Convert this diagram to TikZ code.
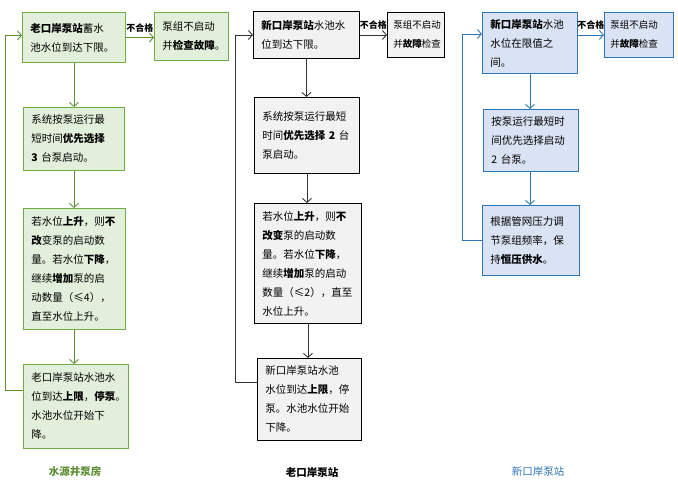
\documentclass[tikz,border=0pt]{standalone}
\usepackage{fontspec}
\setmainfont{Noto Sans CJK SC}
\usetikzlibrary{arrows.meta,calc}
\definecolor{gfill}{HTML}{E2EFDA}
\definecolor{gline}{HTML}{70AD47}
\definecolor{gdark}{HTML}{5E8F34}
\definecolor{kfill}{HTML}{F2F2F2}
\definecolor{bfill}{HTML}{DAE3F3}
\definecolor{bline}{HTML}{2E75B6}
\tikzset{
  box/.style={draw, line width=0.9pt, anchor=north west, align=left, inner xsep=8pt, inner ysep=2pt,
    font=\fontsize{10.5}{19}\selectfont},
  smallbox/.style={font=\fontsize{9.5}{19}\selectfont, inner xsep=6pt},
  gbox/.style={box, draw=gline, fill=gfill},
  kbox/.style={box, draw=black, fill=kfill},
  bbox/.style={box, draw=bline, fill=bfill},
  conn/.style={line width=0.9pt, -{Straight Barb[length=4pt,width=9pt,line width=0.9pt]}},
  garrow/.style={conn, draw=gdark},
  karrow/.style={conn, draw=black!80},
  barrow/.style={conn, draw=bline},
  fail/.style={above, yshift=4pt, inner sep=1pt, font=\fontsize{9}{10}\selectfont\bfseries, text=black},
  coltitle/.style={font=\fontsize{10.5}{12}\selectfont\bfseries}
}
\begin{document}
\begin{tikzpicture}[x=1pt,y=-1pt]
\useasboundingbox (0,0) rectangle (678,490);
% column 1
\node[gbox, text width=87pt, minimum height=50pt] (a1) at (22,12) {\textbf{老口岸泵站}蓄水\\池水位到达下限。};
\node[gbox, text width=58pt, minimum height=48pt] (a1r) at (154,12) {泵组不启动\\并\textbf{检查故障}。};
\node[gbox, text width=85pt, minimum height=63pt] (a2) at (23,107) {系统按泵运行最\\短时间\textbf{优先选择}\\\textbf{3}~台泵启动。};
\node[gbox, text width=86pt, minimum height=121pt] (a3) at (23,208) {若水位\textbf{上升}，则\textbf{不}\\\textbf{改}变泵的启动数\\量。若水位\textbf{下降}，\\继续\textbf{增加}泵的启\\动数量（≤4），\\直至水位上升。};
\node[gbox, text width=89pt, minimum height=84pt] (a4) at (23,364) {老口岸泵站水池水\\位到达\textbf{上限}，\textbf{停泵}。\\水池水位开始下\\降。};
\draw[garrow] (a1.east) -- (a1.east -| a1r.west) node[fail, midway] {不合格};
\draw[garrow] (a1.south) -- (a1.south |- a2.north);
\draw[garrow] (a2.south -| a1.south) -- (a1.south |- a3.north);
\draw[garrow] (a3.south -| a1.south) -- (a1.south |- a4.north);
\draw[garrow] ([yshift=16pt]a4.west) -- ++(-18,0) |- ([yshift=2pt]a1.west);
\node[coltitle, text=gdark] (t1) at (75,472) {水源井泵房};
% column 2
\node[kbox, text width=90pt, minimum height=47pt] (b1) at (253,11) {\textbf{新口岸泵站}水池水\\位到达下限。};
\node[kbox, smallbox, text width=45pt, minimum height=45pt] (b1r) at (387,12) {泵组不启动\\并\textbf{故障}检查};
\node[kbox, text width=89pt, minimum height=76pt] (b2) at (254,97) {系统按泵运行最短\\时间\textbf{优先选择~2}~台\\泵启动。};
\node[kbox, text width=91pt, minimum height=120pt] (b3) at (254,203) {若水位\textbf{上升}，则\textbf{不}\\\textbf{改变}泵的启动数\\量。若水位\textbf{下降}，\\继续\textbf{增加}泵的启动\\数量（≤2），直至\\水位上升。};
\node[kbox, text width=88pt, minimum height=82pt] (b4) at (257,358) {新口岸泵站水池\\水位到达\textbf{上限}，停\\泵。水池水位开始\\下降。};
\draw[karrow] (b1.east) -- (b1.east -| b1r.west) node[fail, midway] {不合格};
\draw[karrow] (b1.south) -- (b1.south |- b2.north);
\draw[karrow] (b2.south) -- (b2.south |- b3.north);
\draw[karrow] (b3.south) -- (b3.south |- b4.north);
\draw[karrow] ([yshift=17pt]b4.west) -- ++(-22,0) |- (b1.west);
\node[coltitle, text=black] (t2) at (312,473) {老口岸泵站};
% column 3
\node[bbox, text width=79pt, minimum height=61pt] (c1) at (482,12) {\textbf{新口岸泵站}水池\\水位在限值之\\间。};
\node[bbox, smallbox, text width=57pt, minimum height=45pt] (c1r) at (604,12) {泵组不启动\\并\textbf{故障}检查};
\node[bbox, text width=79pt, minimum height=62pt] (c2) at (483,109) {按泵运行最短时\\间优先选择启动\\2~台泵。};
\node[bbox, text width=81pt, minimum height=70pt] (c3) at (482,205) {根据管网压力调\\节泵组频率，保\\持\textbf{恒压供水}。};
\draw[barrow] (c1r.west -| c1.east) -- (c1r.west) node[fail, midway] {不合格};
\draw[barrow] (c1.south) -- (c1.south |- c2.north);
\draw[barrow] (c2.south -| c1.south) -- (c1.south |- c3.north);
\draw[barrow] (c3.west) -- ++(-20,0) |- ([yshift=9pt]c1.west);
\node[coltitle, font=\fontsize{10.5}{12}\selectfont, text=bline] (t3) at (538,471) {新口岸泵站};
\end{tikzpicture}
\end{document}
